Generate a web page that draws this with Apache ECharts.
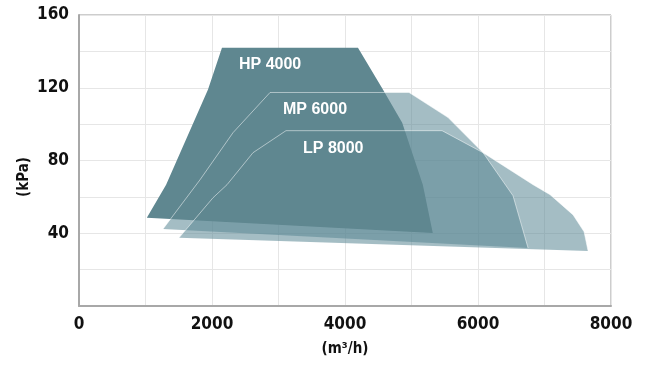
<!DOCTYPE html>
<html>
<head>
<meta charset="utf-8">
<script src="https://cdn.jsdelivr.net/npm/echarts@6/dist/echarts.min.js"></script>
<style>html,body{margin:0;padding:0;background:#fff}#c{width:660px;height:371px}</style>
</head>
<body>
<div id="c"></div>
<script>
// Operating envelopes (flow m3/h, pressure kPa)
var hpFlow = [1020, 1310, 1940, 2150, 4195, 4570, 4860, 5170, 5320];
var hpPress = [48.5, 66.7, 119, 142, 142, 119, 100.8, 66.7, 40.2];
var mpFlow = [1265, 1820, 2316, 2873, 4963, 5550, 6076, 6527, 6753];
var mpPress = [42.4, 69.4, 95.3, 117.4, 117.4, 103.6, 84.3, 60.6, 31.9];
var lpFlow = [1504, 2015, 2226, 2617, 3113, 5460, 6076, 6828, 7084, 7430, 7595, 7655];
var lpPress = [37.5, 59.5, 66.7, 84.3, 96.4, 96.4, 84.3, 66.7, 61.2, 50.1, 40.8, 30.3];
var seriesNames = ['HP 4000', 'MP 6000', 'LP 8000'];
var labelFlow = [2406, 3068, 3369];
var labelPress = [132.5, 108, 86.6];
var xTickLabels = [0, 2000, 4000, 6000, 8000];
var yTickLabels = [40, 80, 120, 160];

var AXFONT = '"DejaVu Sans Condensed", "Liberation Sans", sans-serif';

function pts(xs, ys) { return xs.map(function (x, i) { return [x, ys[i]]; }); }

function polySeries(name, data, fill, stroke, z) {
  return {
    type: 'custom', name: name, z: z, data: data, silent: true,
    renderItem: function (params, api) {
      if (params.dataIndex !== 0) return null;
      var p = data.map(function (d) { return api.coord(d); });
      if (stroke) {
        return { type: 'polyline', shape: { points: p }, style: { fill: 'none', stroke: stroke, lineWidth: 1 } };
      }
      return { type: 'polygon', shape: { points: p }, style: { fill: fill } };
    }
  };
}

var hp = pts(hpFlow, hpPress), mp = pts(mpFlow, mpPress), lp = pts(lpFlow, lpPress);
var labelData = labelFlow.map(function (x, i) { return [x, labelPress[i], seriesNames[i]]; });

var chart = echarts.init(document.getElementById('c'));
chart.setOption({
  animation: false,
  grid: { left: 79, right: 49, top: 15, bottom: 65, show: true, borderColor: '#9a9a9a', borderWidth: 1 },
  xAxis: {
    type: 'value', min: 0, max: 8000, interval: 1000,
    name: '(m³/h)', nameLocation: 'middle', nameGap: 36,
    nameTextStyle: { fontFamily: AXFONT, fontWeight: 'bold', fontSize: 15, color: '#111' },
    axisLine: { show: true, lineStyle: { color: '#a8a8a8', width: 2 } },
    axisTick: { show: false },
    splitLine: { show: true, lineStyle: { color: '#e6e6e6', width: 1 } },
    axisLabel: {
      margin: 10, fontFamily: AXFONT, fontWeight: 'bold', fontSize: 17, color: '#111',
      formatter: function (v) { return xTickLabels.indexOf(v) >= 0 ? String(v) : ''; }
    }
  },
  yAxis: {
    type: 'value', min: 0, max: 160, interval: 20,
    axisLine: { show: true, lineStyle: { color: '#a8a8a8', width: 2 } },
    axisTick: { show: false },
    splitLine: { show: true, lineStyle: { color: '#e6e6e6', width: 1 } },
    axisLabel: {
      margin: 10, fontFamily: AXFONT, fontWeight: 'bold', fontSize: 17, color: '#111',
      formatter: function (v) { return yTickLabels.indexOf(v) >= 0 ? String(v) : ''; }
    }
  },
  graphic: [{
    type: 'text', x: 24, y: 177, rotation: Math.PI / 2,
    style: { text: '(kPa)', fontFamily: AXFONT, fontWeight: 'bold', fontSize: 15, fill: '#111', align: 'center', verticalAlign: 'middle' }
  }],
  series: [
    polySeries('LP 8000', lp, 'rgba(89,134,147,0.55)', null, 1),
    polySeries('MP 6000', mp, 'rgba(89,134,147,0.55)', null, 2),
    polySeries('HP 4000', hp, '#5f8790', null, 3),
    polySeries('MP 6000 outline', mp, null, 'rgba(255,255,255,0.5)', 4),
    polySeries('LP 8000 outline', lp, null, 'rgba(255,255,255,0.5)', 5),
    {
      type: 'custom', name: 'labels', z: 6, data: labelData, silent: true,
      renderItem: function (params, api) {
        var c = api.coord([api.value(0), api.value(1)]);
        return { type: 'text', x: c[0], y: c[1], style: { text: labelData[params.dataIndex][2], fill: '#fff', fontFamily: 'Liberation Sans', fontWeight: 'bold', fontSize: 16, align: 'left', verticalAlign: 'middle' } };
      }
    }
  ]
});
</script>
</body>
</html>
